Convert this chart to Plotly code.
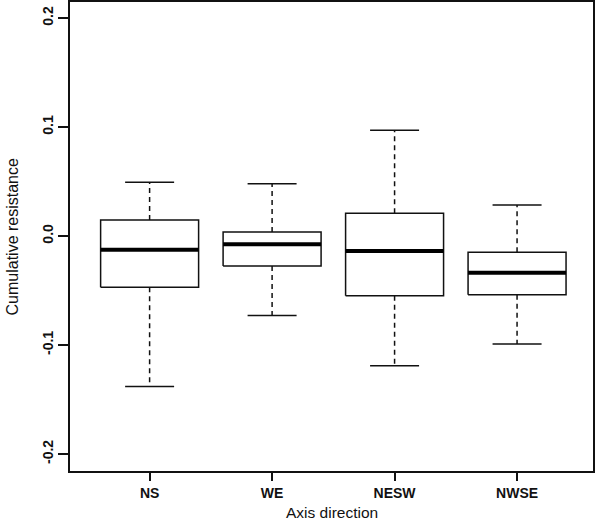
import plotly.graph_objects as go

categories = ["NS", "WE", "NESW", "NWSE"]
lower_whisker = [-0.138, -0.073, -0.119, -0.099]
q1 = [-0.047, -0.0275, -0.0548, -0.0538]
median = [-0.0126, -0.0076, -0.0138, -0.0337]
q3 = [0.0147, 0.0037, 0.0208, -0.015]
upper_whisker = [0.0493, 0.048, 0.097, 0.0284]
y_ticks = [-0.2, -0.1, 0.0, 0.1, 0.2]
y_tick_labels = ["-0.2", "-0.1", "0.0", "0.1", "0.2"]
x_title = "Axis direction"
y_title = "Cumulative resistance"

BOX_HALF = 0.4
CAP_HALF = 0.2
positions = list(range(1, len(categories) + 1))

fig = go.Figure()
line_col = "#111111"

for i, x in enumerate(positions):
    fig.add_trace(go.Scatter(
        x=[x, x, None, x, x],
        y=[q3[i], upper_whisker[i], None, q1[i], lower_whisker[i]],
        mode="lines", line=dict(color=line_col, width=1.5, dash="5px,4px"),
        hoverinfo="skip", showlegend=False))
    fig.add_trace(go.Scatter(
        x=[x - CAP_HALF, x + CAP_HALF, None, x - CAP_HALF, x + CAP_HALF],
        y=[upper_whisker[i], upper_whisker[i], None, lower_whisker[i], lower_whisker[i]],
        mode="lines", line=dict(color=line_col, width=1.5),
        hoverinfo="skip", showlegend=False))
    fig.add_trace(go.Scatter(
        x=[x - BOX_HALF, x + BOX_HALF, x + BOX_HALF, x - BOX_HALF, x - BOX_HALF],
        y=[q1[i], q1[i], q3[i], q3[i], q1[i]],
        mode="lines", fill="toself", fillcolor="white",
        line=dict(color=line_col, width=1.5),
        hoverinfo="skip", showlegend=False))
    fig.add_trace(go.Scatter(
        x=[x - BOX_HALF, x + BOX_HALF],
        y=[median[i], median[i]],
        mode="lines", line=dict(color="#000000", width=4),
        hoverinfo="skip", showlegend=False))

font_fam = "Liberation Sans, Arial, sans-serif"

fig.update_layout(
    width=600, height=520,
    margin=dict(l=70, r=7, t=2, b=49, autoexpand=False),
    paper_bgcolor="white", plot_bgcolor="white",
    font=dict(family=font_fam, color="#111111", size=14),
    xaxis=dict(
        range=[0.35, 4.62], automargin=False,
        tickmode="array", tickvals=positions,
        ticktext=["<b>%s</b>" % c for c in categories],
        ticks="outside", ticklen=8, tickwidth=1.5, tickcolor=line_col,
        showline=True, linecolor=line_col, linewidth=1.5, mirror=True,
        showgrid=False, zeroline=False,
        tickfont=dict(size=14),
    ),
    yaxis=dict(
        range=[-0.2156, 0.2147], automargin=False,
        tickmode="array", tickvals=y_ticks,
        ticktext=["<b>%s</b>" % t for t in y_tick_labels],
        tickangle=-90,
        ticks="outside", ticklen=10, tickwidth=1.5, tickcolor=line_col,
        showline=True, linecolor=line_col, linewidth=1.5, mirror=True,
        showgrid=False, zeroline=False,
        tickfont=dict(size=14),
    ),
    annotations=[
        dict(text=x_title, xref="paper", yref="paper", x=0.5, y=0,
             xanchor="center", yanchor="middle", yshift=-41,
             showarrow=False, font=dict(size=15.5)),
        dict(text=y_title, xref="paper", yref="paper", x=0, y=0.5,
             xanchor="center", yanchor="middle", xshift=-58, textangle=-90,
             showarrow=False, font=dict(size=16)),
    ],
)

fig.write_html("out.html", config={"displayModeBar": False},
               post_script="document.body.style.margin='0';document.body.style.overflow='hidden';")
